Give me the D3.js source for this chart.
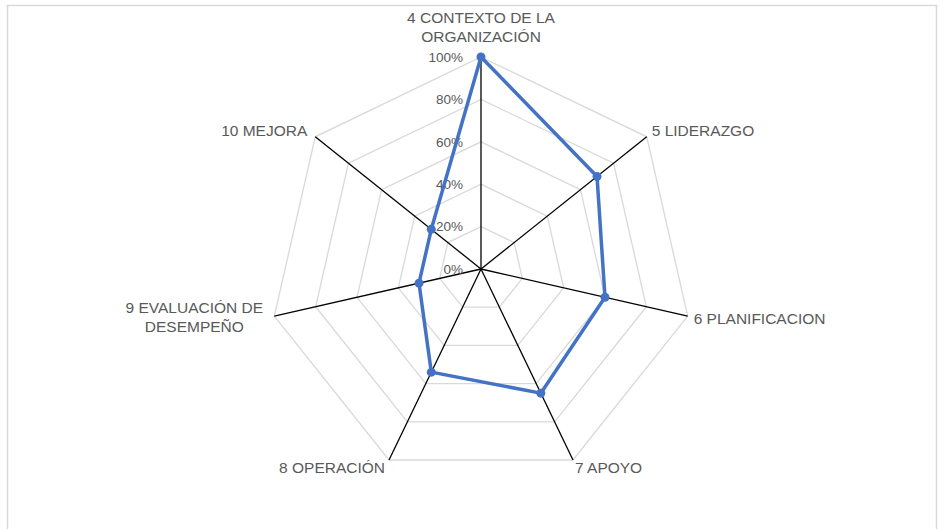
<!DOCTYPE html>
<html>
<head>
<meta charset="utf-8">
<script src="https://cdn.jsdelivr.net/npm/d3@7"></script>
<style>
body {margin:0; background:#fff;}
text {font-family:"Liberation Sans", Arial, sans-serif; fill:#595959;}
</style>
</head>
<body>
<div id="plot"></div>
<script>
/* data */
var categories = ['4 CONTEXTO DE LA|ORGANIZACIÓN', '5 LIDERAZGO', '6 PLANIFICACION', '7 APOYO', '8 OPERACIÓN', '9 EVALUACIÓN DE|DESEMPEÑO', '10 MEJORA'];
var values = [1.00, 0.70, 0.60, 0.65, 0.54, 0.30, 0.30];
var ticks = [0, 0.2, 0.4, 0.6, 0.8, 1.0];

var width = 943, height = 529;
var cx = 481, cy = 269, R = 212;

var svg = d3.select('#plot')
	.append('svg')
	.attr('width', width)
	.attr('height', height);

// chart border
svg.append('rect')
	.attr('x', 7.5).attr('y', 5.5)
	.attr('width', 929).attr('height', 540)
	.style('fill', 'none')
	.style('stroke', '#d9d9d9')
	.style('stroke-width', 1.5);

var plot = svg.append('g')
	.attr('transform', 'translate(' + cx + ',' + cy + ')');

var r = d3.scaleLinear().domain([0, 1]).range([0, R]);
var angle = d3.scaleLinear().domain([0, categories.length]).range([0, 2 * Math.PI]);

function px(i, v) { return r(v) * Math.sin(angle(i)); }
function py(i, v) { return -r(v) * Math.cos(angle(i)); }

// grid rings
ticks.slice(1).forEach(function (t) {
	var pts = categories.map(function (c, i) { return [px(i, t), py(i, t)]; });
	plot.append('path')
		.attr('d', d3.line()(pts) + 'Z')
		.style('fill', 'none')
		.style('stroke', '#d9d9d9')
		.style('stroke-width', 1.3);
});

// spokes
plot.selectAll('.spoke')
	.data(categories)
	.enter()
	.append('line')
	.attr('class', 'spoke')
	.attr('x1', 0).attr('y1', 0)
	.attr('x2', function (d, i) { return px(i, 1); })
	.attr('y2', function (d, i) { return py(i, 1); })
	.style('stroke', '#000')
	.style('stroke-width', 1.3);

// tick labels
plot.selectAll('.tick')
	.data(ticks)
	.enter()
	.append('text')
	.attr('class', 'tick')
	.attr('x', -18)
	.attr('y', function (d) { return -r(d); })
	.attr('dy', '0.35em')
	.attr('text-anchor', 'end')
	.style('font-size', '13.5px')
	.text(d3.format('.0%'));

// category labels
var labelPos = [
	{dx: 0, dy: -30, a: 'middle'},
	{dx: 5, dy: -6, a: 'start'},
	{dx: 6, dy: 2, a: 'start'},
	{dx: 2, dy: 8, a: 'start'},
	{dx: -4, dy: 8, a: 'end'},
	{dx: -80, dy: 1, a: 'middle'},
	{dx: -8, dy: -6, a: 'end'}
];

categories.forEach(function (c, i) {
	var lines = c.split('|');
	var p = labelPos[i];
	var t = plot.append('text')
		.attr('x', px(i, 1) + p.dx)
		.attr('y', py(i, 1) + p.dy - (lines.length - 1) * 9.5)
		.attr('text-anchor', p.a)
		.style('font-size', '15.5px');
	lines.forEach(function (l, k) {
		t.append('tspan')
			.attr('x', px(i, 1) + p.dx)
			.attr('dy', k == 0 ? '0.35em' : '19px')
			.text(l);
	});
});

// series
var pts = values.map(function (v, i) { return [px(i, v), py(i, v)]; });
plot.append('path')
	.attr('d', d3.line()(pts) + 'Z')
	.style('fill', 'none')
	.style('stroke', '#4472c4')
	.style('stroke-width', 3.5)
	.style('stroke-linejoin', 'round');

plot.selectAll('.dot')
	.data(values)
	.enter()
	.append('circle')
	.attr('class', 'dot')
	.attr('cx', function (d, i) { return px(i, d); })
	.attr('cy', function (d, i) { return py(i, d); })
	.attr('r', 4.5)
	.style('fill', '#4472c4');
</script>
</body>
</html>
